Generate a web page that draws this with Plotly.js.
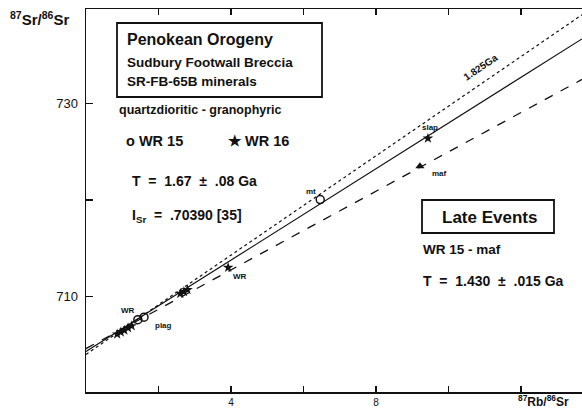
<!DOCTYPE html>
<html><head><meta charset="utf-8">
<script src="https://cdn.plot.ly/plotly-3.0.1.min.js"></script>
<style>html,body{margin:0;padding:0;background:#fff}</style>
</head><body><div id="chart" style="width:582px;height:409px"></div>
<script>
// ---- data (x = 87Rb/86Sr as labelled, y = 87Sr/86Sr as labelled x1000) ----
const wr16X = [0.86, 0.96, 1.06, 1.16, 1.26, 2.6, 2.7, 2.8, 3.92, 9.43];
const wr16Y = [706.1, 706.3, 706.5, 706.75, 706.95, 710.3, 710.5, 710.7, 713.0, 726.4];
const wr15X = [1.43, 1.6, 6.46];
const wr15Y = [707.6, 707.85, 720.05];
const mafX = [9.21];
const mafY = [723.5];
const isoX = [0, 13.68];
const isoSolidY = [704.3, 736.7];    // T = 1.67 Ga
const iso1825Y = [704.0, 739.2];     // 1.825 Ga reference
const isoLateY = [704.6, 732.5];     // WR15 - maf, 1.430 Ga
const pointLabels = [
  {x: 1.15, y: 708.5, t: 'WR'},
  {x: 2.15, y: 707.0, t: 'plag'},
  {x: 4.25, y: 712.1, t: 'WR'},
  {x: 6.2, y: 720.9, t: 'mt'},
  {x: 9.5, y: 727.5, t: 'slap'},
  {x: 9.75, y: 722.8, t: 'maf'}
];
const xTickVals = [4, 8];
const xTickText = ['4', '8'];
const yTickVals = [710, 730];
const yTickText = ['710', '730'];

// pixel -> paper helpers (layout only)
const L = 86, R = 582, T = 9, B = 392;
const px = x => (x - L) / (R - L);
const py = y => (B - y) / (B - T);
const FONT = 'Liberation Sans, Arial, sans-serif';

const traces = [
  {x: isoX, y: iso1825Y, mode: 'lines', line: {color: '#111', width: 1.2, dash: 'dot'}, hoverinfo: 'skip'},
  {x: isoX, y: isoSolidY, mode: 'lines', line: {color: '#111', width: 1.2}, hoverinfo: 'skip'},
  {x: isoX, y: isoLateY, mode: 'lines', line: {color: '#111', width: 1.3, dash: '9px,9px'}, hoverinfo: 'skip'},
  {x: wr16X, y: wr16Y, mode: 'markers', marker: {symbol: 'star', size: 8, color: '#111'}},
  {x: wr15X, y: wr15Y, mode: 'markers', marker: {symbol: 'circle-open', size: 8, color: '#111', line: {width: 1.5}}},
  {x: mafX, y: mafY, mode: 'markers', marker: {symbol: 'triangle-up', size: 8, color: '#111'}}
];

function txt(xp, yp, text, size, extra) {
  return Object.assign({xref: 'paper', yref: 'paper', x: px(xp), y: py(yp), text: text,
    showarrow: false, xanchor: 'left', yanchor: 'middle',
    font: {family: FONT, size: size, color: '#111'}}, extra || {});
}

const annotations = [
  txt(125, 40, '<b>Penokean Orogeny</b>', 16),
  txt(125, 62, '<b>Sudbury Footwall Breccia</b>', 13.5),
  txt(125, 82, '<b>SR-FB-65B minerals</b>', 13.5),
  txt(117, 110, '<b>quartzdioritic - granophyric</b>', 12.5),
  txt(124, 141, '<b>o WR 15</b>', 14.5),
  txt(226, 141, '<b>\u2605 WR 16</b>', 14.5),
  txt(130, 181, '<b>T  =  1.67  \u00b1  .08 Ga</b>', 14),
  txt(130, 216, '<b>I<sub>Sr</sub>  =  .70390 [35]</b>', 14),
  txt(440, 217, '<b>Late Events</b>', 17),
  txt(421, 250, '<b>WR 15 - maf</b>', 13.5),
  txt(421, 281, '<b>T  =  1.430  \u00b1  .015 Ga</b>', 14),
  txt(8, 18, '<b><sup>87</sup>Sr/<sup>86</sup>Sr</b>', 15),
  txt(516, 401, '<b><sup>87</sup>Rb/<sup>86</sup>Sr</b>', 12),
  txt(480, 67, '<b>1.825Ga</b>', 10, {textangle: -34, xanchor: 'center', yanchor: 'middle'})
];
pointLabels.forEach(p => annotations.push({x: p.x, y: p.y, text: '<b>' + p.t + '</b>', showarrow: false,
  font: {family: FONT, size: 8, color: '#111'}}));

const shapes = [
  {type: 'rect', xref: 'paper', yref: 'paper', x0: px(117), x1: px(322), y0: py(23), y1: py(97),
   line: {color: '#111', width: 1.8}},
  {type: 'rect', xref: 'paper', yref: 'paper', x0: px(422), x1: px(554), y0: py(200), y1: py(233),
   line: {color: '#111', width: 1.8}}
];

const layout = {
  width: 582, height: 409,
  margin: {l: L, r: 0, t: T, b: 409 - B, pad: 0},
  paper_bgcolor: '#fff', plot_bgcolor: '#fff',
  showlegend: false,
  font: {family: FONT, color: '#111'},
  xaxis: {range: [0, 13.68], showgrid: false, zeroline: false, showline: true, linecolor: '#111', linewidth: 1.5,
    mirror: 'ticks', ticks: 'inside', ticklen: 6, tickwidth: 1.2, tickcolor: '#111',
    tickmode: 'array', tickvals: xTickVals, ticktext: xTickText, tickfont: {size: 10, family: FONT}, ticklabelstandoff: 0,
    minor: {ticks: 'inside', tick0: 0, dtick: 2, ticklen: 6, tickwidth: 1.2, tickcolor: '#111', showgrid: false}},
  yaxis: {range: [700.1, 739.8], showgrid: false, zeroline: false, showline: true, linecolor: '#111', linewidth: 1.5,
    ticks: 'inside', ticklen: 7, tickwidth: 1.2, tickcolor: '#111',
    tickmode: 'array', tickvals: yTickVals, ticktext: yTickText, tickfont: {size: 13, family: FONT}, ticklabelstandoff: 4,
    minor: {ticks: 'inside', tick0: 700, dtick: 10, ticklen: 7, tickwidth: 1.2, tickcolor: '#111', showgrid: false}},
  annotations: annotations,
  shapes: shapes
};

Plotly.newPlot('chart', traces, layout, {staticPlot: true, displayModeBar: false});
</script></body></html>
